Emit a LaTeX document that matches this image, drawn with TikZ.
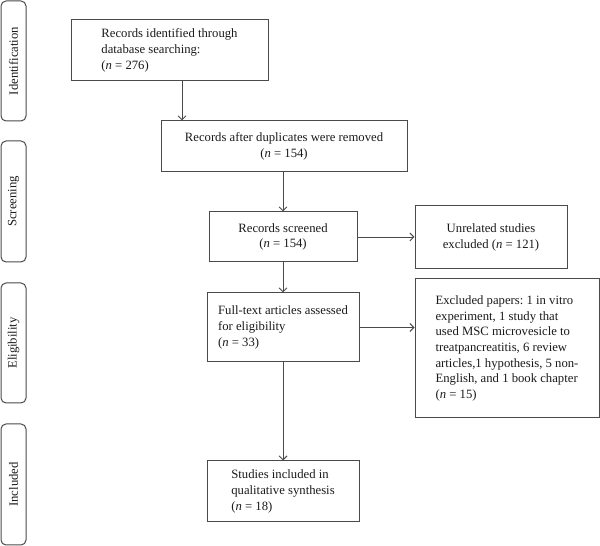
\documentclass[tikz,border=0pt]{standalone}
\usepackage{fontspec}
\setmainfont{Liberation Serif}
\usetikzlibrary{arrows.meta}
\definecolor{lc}{HTML}{4A4A4A}
\definecolor{tc}{HTML}{1A1A1A}
\frenchspacing
\begin{document}
\begin{tikzpicture}[x=1pt,y=1pt,
  every node/.style={font=\fontsize{12.7}{15.7}\selectfont, text=tc},
  box/.style={draw=lc, line width=1pt, inner sep=0pt},
  lbox/.style={box, align=left},
  cbox/.style={box, align=center},
  side/.style={draw=lc, line width=1pt, rounded corners=5pt, inner sep=0pt, minimum width=25pt},
  arr/.style={draw=lc, line width=0.9pt, -{Straight Barb[length=4pt,width=8pt]}}]
\path[use as bounding box] (0,0) rectangle (600,546);
% side labels
\node[side, minimum height=120pt] (sid) at (13.5,546-61) {\rotatebox{90}{Identification}};
\node[side, minimum height=121pt] (ssc) at (13.5,546-201.5) {\rotatebox{90}{Screening}};
\node[side, minimum height=120pt] (sel) at (13.5,546-343) {\rotatebox{90}{Eligibility}};
\node[side, minimum height=121pt] (sin) at (13.5,546-484.5) {\rotatebox{90}{Included}};
% boxes
\node[lbox, minimum width=197pt, minimum height=61pt] (b1) at (169.5,546-50.5)
  {Records identified through\\database searching:\\(\textit{n} = 276)};
\node[cbox, minimum width=246pt, minimum height=51pt] (b2) at (284,546-146.5)
  {Records after duplicates were removed\\(\textit{n} = 154)};
\node[cbox, minimum width=148pt, minimum height=50pt] (b3) at (283,546-237)
  {Records screened\\(\textit{n} = 154)};
\node[cbox, minimum width=152pt, minimum height=63pt] (bu) at (491,546-237.5)
  {Unrelated studies\\excluded (\textit{n} = 121)};
\node[lbox, minimum width=152pt, minimum height=69pt] (b4) at (283,546-327.5)
  {Full-text articles assessed\\for eligibility\\(\textit{n} = 33)};
\node[lbox, minimum width=184pt, minimum height=139pt] (bx) at (507,546-348.5)
  {Excluded papers: 1 in vitro\\experiment, 1 study that\\used MSC microvesicle to\\treatpancreatitis, 6 review\\articles,1 hypothesis, 5 non-\\English, and 1 book chapter\\(\textit{n} = 15)};
\node[lbox, minimum width=152pt, minimum height=61pt] (b5) at (283,546-491.5)
  {Studies included in\\qualitative synthesis\\(\textit{n} = 18)};
% arrows
\draw[arr] ([xshift=12.5pt]b1.south) -- ([xshift=12.5pt]b1.south |- b2.north);
\draw[arr] (b3.north |- b2.south) -- (b3.north);
\draw[arr] (b3.east) -- (b3.east -| bu.west);
\draw[arr] (b3.south) -- (b4.north);
\draw[arr] (b4.east) -- (b4.east -| bx.west);
\draw[arr] (b4.south) -- (b5.north);
\end{tikzpicture}
\end{document}
